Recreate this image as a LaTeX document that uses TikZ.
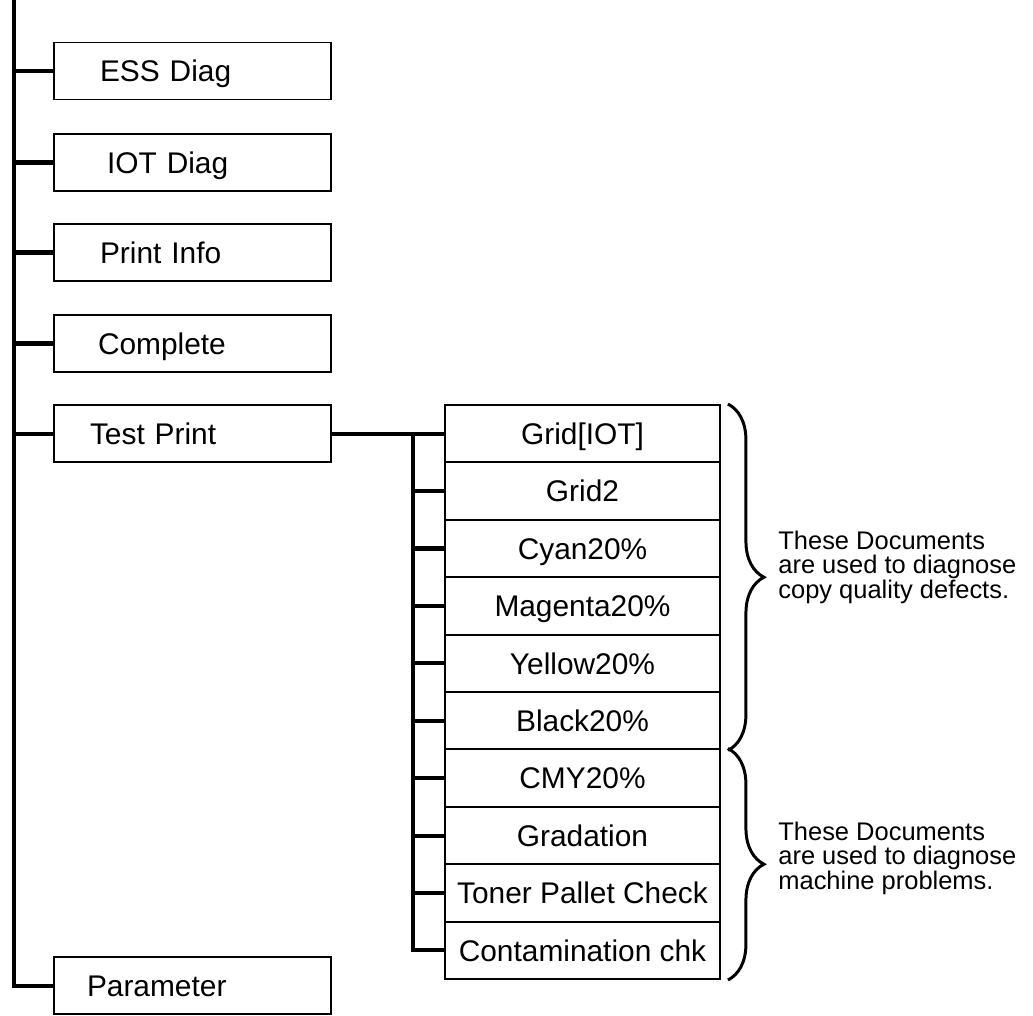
\documentclass[tikz,border=0pt]{standalone}
\usepackage{fontspec}
\setmainfont{Liberation Sans}
\usepackage{tikz}
\usetikzlibrary{calc,decorations.pathreplacing}
\tikzstyle{trunk}=[line width=2.3pt]
\tikzstyle{menubox}=[rectangle, draw, line width=1.1pt, minimum width=5.54cm, minimum height=1.14cm, text width=5.54cm, inner xsep=0pt, align=left, text height=14.6pt, text depth=2.4pt, font=\fontsize{17}{20}\selectfont]
\tikzstyle{docbox}=[rectangle, draw, line width=1.1pt, minimum width=5.5cm, minimum height=1.148cm, inner sep=0pt, text height=14.6pt, text depth=2.4pt, font=\fontsize{17}{20}\selectfont]
\tikzstyle{docbrace}=[decorate, decoration={brace,amplitude=0.72cm}, line width=1.7pt]
\tikzstyle{note}=[anchor=west, align=left, inner sep=0pt, font=\fontsize{14.5}{14}\selectfont]

\begin{document}
\begin{tikzpicture}[x=0.02cm, y=-0.02cm]
    \useasboundingbox (0,0) rectangle (1033,1015);

    % --- menu items ---
    \foreach \n/\t/\yy/\off in {ess/ESS Diag/71/0.92, iot/IOT Diag/162.5/1.06,
                                pinfo/Print Info/252.5/0.92, compl/Complete/343.5/0.88,
                                tprint/Test Print/433.7/0.72, param/Parameter/985.5/0.66} {
      \node[menubox] (\n) at (192.5, \yy) {\hspace*{\off cm}\t};
    }

    % trunk
    \coordinate (top) at (14,0);
    \draw[trunk] (top) |- (param.west);
    \foreach \n in {ess,iot,pinfo,compl,tprint} {
      \draw[trunk] (\n.west) -- (\n.west -| top);
    }

    % --- test print documents ---
    \foreach \t/\k in {Grid[IOT]/0,Grid2/1,Cyan20\%/2,Magenta20\%/3,Yellow20\%/4,
                       Black20\%/5,CMY20\%/6,Gradation/7,Toner Pallet Check/8,Contamination chk/9} {
      \node[docbox] (c\k) at (582.5, {433.7+57.4*\k}) {\t};
    }

    \coordinate (fork) at (413,433.7);
    \draw[trunk] (tprint.east) -- (c0.west);
    \draw[trunk] (fork) |- (c9.west);
    \foreach \k in {1,...,8} {
      \draw[trunk] (c\k.west) -- (c\k.west -| fork);
    }

    % braces
    \draw[docbrace] ([xshift=0.14cm]c0.north east) -- ([xshift=0.14cm]c5.south east);
    \draw[docbrace] ([xshift=0.14cm]c6.north east) -- ([xshift=0.14cm]c9.south east);

    \node[note] (noteq) at (778,567) {These Documents\\are used to diagnose\\copy quality defects.};
    \node[note] (notem) at (778,858) {These Documents\\are used to diagnose\\machine problems.};
  \end{tikzpicture}
\end{document}
